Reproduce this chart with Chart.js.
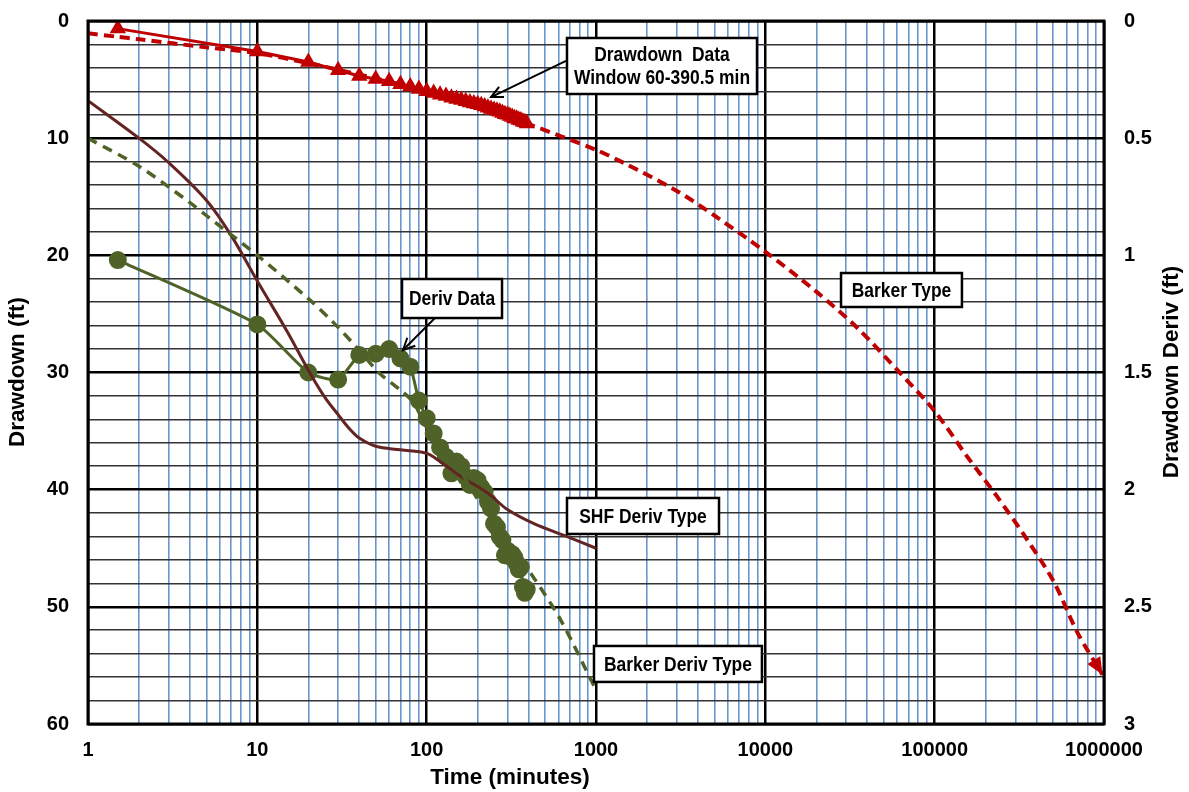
<!DOCTYPE html>
<html>
<head>
<meta charset="utf-8">
<script src="https://cdn.jsdelivr.net/npm/chart.js@4.4.1/dist/chart.umd.min.js"></script>
<style>
  html, body { margin: 0; padding: 0; background: #ffffff; }
  #wrap { width: 1189px; height: 792px; }
</style>
</head>
<body>
<div id="wrap"><canvas id="c" width="1189" height="792"></canvas></div>
<script>
// ---- Drawdown test data (left axis, ft) ----
const drawdownTime = [1.5, 10, 20, 30, 40, 50, 60, 70, 80, 90, 100, 110, 120, 130, 140, 150, 160, 170, 180, 190,
  200, 210, 220, 230, 240, 250, 260, 270, 280, 290, 300, 310, 320, 330, 340, 350, 360, 370, 380, 390.5];
const drawdownFt = [0.65, 2.6, 3.5, 4.2, 4.7, 4.95, 5.15, 5.4, 5.6, 5.8, 6.0, 6.15, 6.3, 6.4, 6.55, 6.65, 6.75, 6.85, 6.95, 7.05,
  7.1, 7.2, 7.3, 7.4, 7.5, 7.6, 7.65, 7.75, 7.85, 7.95, 8.0, 8.1, 8.2, 8.3, 8.35, 8.45, 8.5, 8.6, 8.65, 8.75];

// ---- Barker type curve (left axis, ft) ----
const barkerTime = [1, 1.5, 2, 5, 10, 20, 50, 100, 200, 400, 1000, 1500, 3000, 5000, 10000, 20000, 35000, 63000,
  100000, 156000, 234000, 353000, 507000, 697000, 980000];
const barkerFt = [1.05, 1.35, 1.56, 2.25, 2.75, 3.6, 4.9, 6.0, 7.2, 8.8, 11.0, 12.2, 14.5, 16.6, 19.7, 23.1, 26.2, 30.1,
  33.3, 37.2, 40.6, 44.3, 47.9, 52.2, 55.8];

// ---- Drawdown derivative data (right axis, ft) ----
const derivTime = [1.5, 10, 20, 30, 40, 50, 60, 70, 80, 90, 100, 110, 120, 130, 140, 150, 160, 170, 180, 190,
  200, 210, 220, 230, 240, 250, 260, 270, 280, 290, 300, 310, 320, 330, 340, 350, 360, 370, 380, 390];
const derivFt = [1.02, 1.295, 1.50, 1.53, 1.425, 1.42, 1.40, 1.44, 1.475, 1.62, 1.695, 1.76, 1.82, 1.86, 1.93, 1.88, 1.90, 1.945, 1.98, 1.95,
  1.96, 1.99, 2.01, 2.05, 2.08, 2.145, 2.16, 2.20, 2.215, 2.28, 2.26, 2.285, 2.275, 2.29, 2.315, 2.34, 2.33, 2.415, 2.44, 2.425];

// ---- SHF derivative type curve (right axis, ft) ----
const shfTime = [1, 2, 3, 5, 7, 10, 15, 20, 25, 30, 35, 40, 50, 70, 100, 120, 160, 230, 300, 430, 675, 1000];
const shfDerivFt = [0.34, 0.50, 0.605, 0.765, 0.915, 1.11, 1.325, 1.49, 1.605, 1.68, 1.74, 1.78, 1.815, 1.83, 1.845, 1.88, 1.945, 2.015, 2.085, 2.145, 2.20, 2.25];

// ---- Barker derivative type curve (right axis, ft) ----
const barkerDerivTime = [1, 2, 4, 5, 10, 20, 28, 40, 52, 70, 84, 100, 150, 200, 300, 410, 617, 1000];
const barkerDerivFt = [0.50, 0.62, 0.775, 0.83, 1.00, 1.185, 1.285, 1.405, 1.50, 1.575, 1.63, 1.735, 1.895, 2.04, 2.22, 2.355, 2.555, 2.855];

// ---- Tick labels ----
const timeTickLabels = ['1', '10', '100', '1000', '10000', '100000', '1000000'];
const drawdownTickLabels = ['0', '10', '20', '30', '40', '50', '60'];
const derivTickLabels = ['0', '0.5', '1', '1.5', '2', '2.5', '3'];

const pts = (xs, ys) => xs.map((x, i) => ({ x: x, y: ys[i] }));

// every 1..9 multiple of each decade for the log grid
const timeGridValues = [];
for (let k = 0; k < 6; k++) for (let m = 1; m <= 9; m++) timeGridValues.push(m * Math.pow(10, k));
timeGridValues.push(1e6);
const isDecade = v => Math.abs(Math.log10(v) - Math.round(Math.log10(v))) < 1e-9;

const TICK_FONT = { family: '"Liberation Sans", Arial, sans-serif', size: 20, weight: 'bold' };
const RED = '#C00000', OLIVE = '#4F6228', BROWN = '#632523';

function fontExists(name) {
  const c = document.createElement('canvas').getContext('2d');
  const s = 'Window 60-390.5 min';
  c.font = 'bold 20px monospace';
  const w1 = c.measureText(s).width;
  c.font = 'bold 20px "' + name + '", monospace';
  return Math.abs(c.measureText(s).width - w1) > 0.5;
}
const HAS_NARROW = fontExists('Liberation Sans Narrow');

// Callout boxes, anchored in (time, drawdown) coordinates
const callouts = [
  { lines: ['Drawdown  Data', 'Window 60-390.5 min'], t0: 674, t1: 8930, d0: 1.45, d1: 6.23,
    arrow: { from: [665, 3.41], to: [240, 6.49] } },
  { lines: ['Deriv Data'], t0: 71.5, t1: 278.6, d0: 22.02, d1: 25.35,
    arrow: { from: [112, 25.35], to: [72.5, 28.08] } },
  { lines: ['SHF Deriv Type'], t0: 674, t1: 5327, d0: 40.71, d1: 43.78 },
  { lines: ['Barker Type'], t0: 27990, t1: 144900, d0: 21.51, d1: 24.41 },
  { lines: ['Barker Deriv Type'], t0: 973, t1: 9550, d0: 53.34, d1: 56.41 }
];

function drawOpenArrow(ctx, x0, y0, x1, y1) {
  ctx.beginPath(); ctx.moveTo(x0, y0); ctx.lineTo(x1, y1); ctx.stroke();
  const a = Math.atan2(y1 - y0, x1 - x0), L = 13, w = 0.45;
  ctx.beginPath();
  ctx.moveTo(x1 - L * Math.cos(a - w), y1 - L * Math.sin(a - w));
  ctx.lineTo(x1, y1);
  ctx.lineTo(x1 - L * Math.cos(a + w), y1 - L * Math.sin(a + w));
  ctx.stroke();
}

const overlay = {
  id: 'overlay',
  afterDatasetsDraw(chart) {
    const ctx = chart.ctx, ca = chart.chartArea, sx = chart.scales.x, sy = chart.scales.y;
    ctx.save();
    // plot frame
    ctx.strokeStyle = '#000'; ctx.lineWidth = 3;
    ctx.strokeRect(ca.left, ca.top, ca.right - ca.left, ca.bottom - ca.top);

    // arrow head closing the Barker type curve
    const pe = chart.getDatasetMeta(1).data;
    const b = pe[pe.length - 1], a = pe[pe.length - 2];
    const px = (b.cp1x !== undefined && isFinite(b.cp1x)) ? b.cp1x : a.x;
    const py = (b.cp1y !== undefined && isFinite(b.cp1y)) ? b.cp1y : a.y;
    const ang = Math.atan2(b.y - py, b.x - px);
    const L = 17, W = 7.5;
    ctx.fillStyle = RED;
    ctx.beginPath();
    ctx.moveTo(b.x, b.y);
    ctx.lineTo(b.x - L * Math.cos(ang) + W * Math.sin(ang), b.y - L * Math.sin(ang) - W * Math.cos(ang));
    ctx.lineTo(b.x - L * Math.cos(ang) - W * Math.sin(ang), b.y - L * Math.sin(ang) + W * Math.cos(ang));
    ctx.closePath(); ctx.fill();

    // callouts
    callouts.forEach(c => {
      const x0 = sx.getPixelForValue(c.t0), x1 = sx.getPixelForValue(c.t1);
      const y0 = sy.getPixelForValue(c.d0), y1 = sy.getPixelForValue(c.d1);
      ctx.fillStyle = '#fff'; ctx.strokeStyle = '#000'; ctx.lineWidth = 2.5;
      ctx.fillRect(x0, y0, x1 - x0, y1 - y0);
      ctx.strokeRect(x0, y0, x1 - x0, y1 - y0);
      const cx = (x0 + x1) / 2, cy = (y0 + y1) / 2, lh = 23;
      ctx.fillStyle = '#000'; ctx.textAlign = 'center'; ctx.textBaseline = 'middle';
      c.lines.forEach((s, i) => {
        const ty = cy + (i - (c.lines.length - 1) / 2) * lh + 1;
        if (HAS_NARROW) {
          ctx.font = 'bold 21px "Liberation Sans Narrow"';
          ctx.fillText(s, cx, ty);
        } else {
          ctx.save(); ctx.translate(cx, ty); ctx.scale(0.83, 1);
          ctx.font = 'bold 21px "Liberation Sans", Arial';
          ctx.fillText(s, 0, 0); ctx.restore();
        }
      });
      if (c.arrow) {
        ctx.strokeStyle = '#000'; ctx.lineWidth = 2;
        drawOpenArrow(ctx, sx.getPixelForValue(c.arrow.from[0]), sy.getPixelForValue(c.arrow.from[1]),
          sx.getPixelForValue(c.arrow.to[0]), sy.getPixelForValue(c.arrow.to[1]));
      }
    });

    // axis titles
    ctx.fillStyle = '#000';
    ctx.font = 'bold 22.5px "Liberation Sans", Arial';
    ctx.textAlign = 'center'; ctx.textBaseline = 'middle';
    ctx.fillText('Time (minutes)', 510, 778);
    ctx.save(); ctx.translate(18, 372); ctx.rotate(-Math.PI / 2); ctx.fillText('Drawdown (ft)', 0, 0); ctx.restore();
    ctx.save(); ctx.translate(1172, 372); ctx.rotate(-Math.PI / 2); ctx.fillText('Drawdown Deriv (ft)', 0, 0); ctx.restore();
    ctx.restore();
  }
};

new Chart(document.getElementById('c'), {
  type: 'line',
  data: {
    datasets: [
      { label: 'Drawdown Data', data: pts(drawdownTime, drawdownFt), yAxisID: 'y',
        borderColor: RED, backgroundColor: RED, borderWidth: 3, pointStyle: 'triangle', pointRadius: 6.5,
        tension: 0, order: 4 },
      { label: 'Barker Type', data: pts(barkerTime, barkerFt), yAxisID: 'y',
        borderColor: RED, borderWidth: 4, borderDash: [10, 6], pointRadius: 0, tension: 0.3, order: 3 },
      { label: 'Deriv Data', data: pts(derivTime, derivFt), yAxisID: 'y2',
        borderColor: OLIVE, backgroundColor: OLIVE, borderWidth: 3, pointStyle: 'circle', pointRadius: 7.5,
        tension: 0.2, order: 5 },
      { label: 'SHF Deriv Type', data: pts(shfTime, shfDerivFt), yAxisID: 'y2',
        borderColor: BROWN, borderWidth: 3, pointRadius: 0, tension: 0.35, order: 2 },
      { label: 'Barker Deriv Type', data: pts(barkerDerivTime, barkerDerivFt), yAxisID: 'y2',
        borderColor: OLIVE, borderWidth: 3.5, borderDash: [10, 7], pointRadius: 0, tension: 0.3, order: 1 }
    ]
  },
  options: {
    responsive: false, animation: false, devicePixelRatio: 1,
    layout: { padding: { top: 21, left: 0, right: 0, bottom: 0 } },
    plugins: { legend: { display: false }, tooltip: { enabled: false } },
    scales: {
      x: {
        type: 'logarithmic', position: 'bottom', min: 1, max: 1e6,
        afterBuildTicks: s => { s.ticks = timeGridValues.map(v => ({ value: v })); },
        afterFit: s => { s.height = 68; s.paddingLeft = 0; s.paddingRight = 0; },
        ticks: { autoSkip: false, maxRotation: 0, minRotation: 0, color: '#000', font: TICK_FONT, padding: 14,
          callback: v => isDecade(v) ? timeTickLabels[Math.round(Math.log10(v))] : '' },
        grid: { drawTicks: false,
          color: c => isDecade(c.tick.value) ? '#000' : '#6A96CE',
          lineWidth: c => isDecade(c.tick.value) ? 2.5 : 1.6 },
        border: { display: false }
      },
      y: {
        position: 'left', min: 0, max: 60, reverse: true,
        afterFit: s => { s.width = 88; s.paddingTop = 0; s.paddingBottom = 0; },
        ticks: { stepSize: 2, autoSkip: false, color: '#000', font: TICK_FONT, padding: 19,
          callback: v => (v % 10 === 0) ? drawdownTickLabels[v / 10] : '' },
        grid: { drawTicks: false,
          color: c => (c.tick.value % 10 === 0) ? '#000' : '#333333',
          lineWidth: c => (c.tick.value % 10 === 0) ? 2.5 : 1.6 },
        border: { display: false }
      },
      y2: {
        position: 'right', min: 0, max: 3, reverse: true,
        afterFit: s => { s.width = 85; s.paddingTop = 0; s.paddingBottom = 0; },
        ticks: { stepSize: 0.5, autoSkip: false, color: '#000', font: TICK_FONT, padding: 20,
          callback: v => derivTickLabels[Math.round(v * 2)] },
        grid: { drawOnChartArea: false, drawTicks: false },
        border: { display: false }
      }
    }
  },
  plugins: [overlay]
});
</script>
</body>
</html>
